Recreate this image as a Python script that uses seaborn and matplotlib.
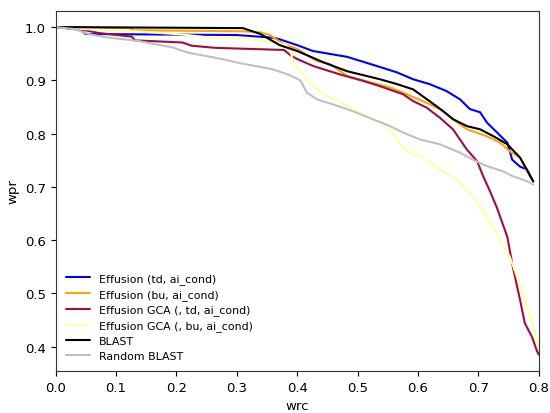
import matplotlib
matplotlib.use("Agg")
import matplotlib.pyplot as plt
import seaborn as sns
import pandas as pd

# ---- data ----
names = ["Effusion (td, ai_cond)", "Effusion (bu, ai_cond)",
         "Effusion GCA (, td, ai_cond)", "Effusion GCA (, bu, ai_cond)",
         "BLAST", "Random BLAST"]
colors = ["#0000ff", "#ffa500", "#9c0d4a", "#ffffaa", "#000000", "#c0c0c0"]

blue_wrc = [0, 0.04, 0.05, 0.30, 0.36, 0.371, 0.40, 0.426, 0.483, 0.537, 0.565, 0.592,
            0.619, 0.647, 0.670, 0.686, 0.703, 0.714, 0.731, 0.748, 0.756, 0.769, 0.780, 0.789]
blue_wpr = [1.0, 0.995, 0.987, 0.985, 0.98, 0.977, 0.966, 0.955, 0.944, 0.925, 0.915, 0.902,
            0.893, 0.880, 0.864, 0.846, 0.840, 0.821, 0.802, 0.783, 0.751, 0.738, 0.733, 0.714]

orange_wrc = [0, 0.12, 0.13, 0.31, 0.339, 0.355, 0.377, 0.40, 0.433, 0.455, 0.483, 0.515,
              0.553, 0.581, 0.608, 0.636, 0.658, 0.681, 0.714, 0.736, 0.753, 0.769, 0.786, 0.791]
orange_wpr = [1.0, 0.998, 0.994, 0.992, 0.99, 0.985, 0.968, 0.959, 0.936, 0.930, 0.908, 0.898,
              0.887, 0.874, 0.861, 0.846, 0.827, 0.808, 0.795, 0.783, 0.766, 0.755, 0.719, 0.710]

gca_td_wrc = [0, 0.045, 0.07, 0.126, 0.131, 0.21, 0.225, 0.264, 0.32, 0.378,
              0.39, 0.40, 0.426, 0.471, 0.509, 0.537, 0.575, 0.592, 0.614, 0.636,
              0.658, 0.681, 0.698, 0.708, 0.72, 0.731, 0.748, 0.757, 0.769, 0.777,
              0.789, 0.797, 0.80]
gca_td_wpr = [1.0, 0.995, 0.989, 0.982, 0.975, 0.971, 0.965, 0.961, 0.959, 0.957,
              0.946, 0.940, 0.927, 0.911, 0.899, 0.889, 0.874, 0.861, 0.849, 0.830,
              0.808, 0.770, 0.748, 0.720, 0.690, 0.660, 0.606, 0.550, 0.488, 0.444,
              0.418, 0.392, 0.385]

gca_bu_wrc = [0, 0.05, 0.12, 0.21, 0.25, 0.33, 0.367, 0.383, 0.39, 0.393,
              0.416, 0.443, 0.471, 0.492, 0.520, 0.549, 0.565, 0.585, 0.608, 0.636,
              0.664, 0.686, 0.703, 0.724, 0.741, 0.752, 0.764, 0.774, 0.789, 0.794, 0.800]
gca_bu_wpr = [1.0, 0.996, 0.993, 0.986, 0.981, 0.977, 0.971, 0.965, 0.950, 0.934,
              0.902, 0.874, 0.861, 0.846, 0.830, 0.814, 0.789, 0.764, 0.755, 0.733,
              0.714, 0.689, 0.663, 0.625, 0.588, 0.569, 0.531, 0.501, 0.444, 0.425, 0.400]

blast_wrc = [0, 0.31, 0.339, 0.371, 0.40, 0.443, 0.483, 0.537, 0.565, 0.592, 0.619,
             0.642, 0.658, 0.681, 0.703, 0.725, 0.748, 0.769, 0.780, 0.791]
blast_wpr = [1.0, 0.998, 0.987, 0.966, 0.955, 0.934, 0.917, 0.902, 0.893, 0.883, 0.861,
             0.842, 0.827, 0.814, 0.808, 0.795, 0.780, 0.755, 0.733, 0.710]

rand_wrc = [0, 0.032, 0.054, 0.082, 0.136, 0.164, 0.193, 0.219, 0.247, 0.275, 0.302,
            0.330, 0.358, 0.385, 0.405, 0.416, 0.433, 0.459, 0.492, 0.525, 0.554,
            0.575, 0.603, 0.636, 0.670, 0.691, 0.714, 0.741, 0.757, 0.780, 0.791]
rand_wpr = [1.0, 0.996, 0.987, 0.981, 0.974, 0.968, 0.962, 0.952, 0.946, 0.940, 0.933,
            0.927, 0.921, 0.911, 0.900, 0.877, 0.864, 0.855, 0.842, 0.827, 0.814,
            0.802, 0.789, 0.780, 0.764, 0.751, 0.739, 0.729, 0.720, 0.711, 0.704]

series = [(blue_wrc, blue_wpr), (orange_wrc, orange_wpr), (gca_td_wrc, gca_td_wpr),
          (gca_bu_wrc, gca_bu_wpr), (blast_wrc, blast_wpr), (rand_wrc, rand_wpr)]

frames = []
for n, (x, y) in zip(names, series):
    frames.append(pd.DataFrame({"wrc": x, "wpr": y, "method": n}))
df = pd.concat(frames, ignore_index=True)

sns.set_style("ticks")
plt.rcParams["font.family"] = ["DejaVu Sans"]
plt.rcParams["text.color"] = "black"
plt.rcParams["axes.labelcolor"] = "black"

fig = plt.figure(figsize=(5.5, 4.14), dpi=100)
ax = fig.add_axes([0.1013, 0.1014, 0.8782, 0.8704])

sns.lineplot(data=df, x="wrc", y="wpr", hue="method", hue_order=names,
             palette=dict(zip(names, colors)), sort=False, estimator=None,
             units="method", linewidth=1.5, ax=ax, legend=True)

ax.set_xlim(0, 0.8)
ax.margins(y=0.05)
ax.set_xticks([0.0, 0.1, 0.2, 0.3, 0.4, 0.5, 0.6, 0.7, 0.8])
ax.set_yticks([0.4, 0.5, 0.6, 0.7, 0.8, 0.9, 1.0])
ax.tick_params(labelsize=9.5, colors="black", length=3.5, width=0.8)
ax.set_xlabel("wrc", fontsize=9.5)
ax.set_ylabel("wpr", fontsize=9.5)
for s in ax.spines.values():
    s.set_visible(True)
    s.set_color("#333333")
    s.set_linewidth(0.8)

handles, labels = ax.get_legend_handles_labels()
leg = ax.legend(handles, labels, loc="lower left", frameon=False, fontsize=7.9,
                handlelength=2.2, labelspacing=0.45)
for t in leg.get_texts():
    t.set_color("black")

fig.savefig("out.png", dpi=100)
